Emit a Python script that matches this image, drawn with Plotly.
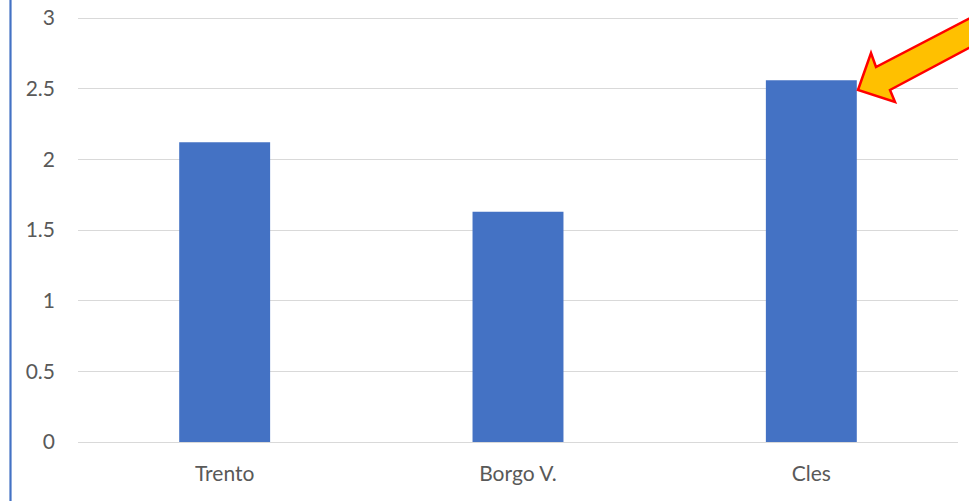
import plotly.graph_objects as go

categories = ["Trento", "Borgo V.", "Cles"]
values = [2.12, 1.63, 2.56]
tick_vals = [0, 0.5, 1, 1.5, 2, 2.5, 3]
tick_text = ["0", "0.5", "1", "1.5", "2", "2.5", "3"]

# body margin is removed below, so the figure fills the window from (0, 0)
OFF = 0
W, H = 969, 501
L, R, T, B = 78, 11, 14, 59
pw, ph = W - L - R, H - T - B
PX_PER_UNIT = (442 - 18) / 3.0
YMAX = ph / PX_PER_UNIT


def px(x, y):
    # screen pixel -> paper coordinate
    fx, fy = x - OFF, y - OFF
    return (fx - L) / pw, (H - B - fy) / ph


fig = go.Figure()
fig.add_trace(go.Bar(x=categories, y=values, marker=dict(color="#4472C4", line=dict(width=0)), width=0.31))

arrow_pts = [(858, 90), (871, 53), (876, 67), (995, 5), (995, 34), (890, 90), (895, 102)]
pts = [px(x, y) for x, y in arrow_pts]
path = "M " + " L ".join(f"{a:.5f},{b:.5f}" for a, b in pts) + " Z"
fig.add_shape(type="path", path=path, xref="paper", yref="paper",
              fillcolor="#FFC000", line=dict(color="#FF0000", width=2.5), layer="above")

x0, _ = px(10.5, 0)
_, y0 = px(0, 0)
_, y1 = px(0, 501)
fig.add_shape(type="line", xref="paper", yref="paper", x0=x0, x1=x0, y0=y0, y1=y1,
              line=dict(color="#4472C4", width=2.2))

fig.update_layout(
    width=W, height=H,
    margin=dict(l=L, r=R, t=T, b=B, autoexpand=False),
    paper_bgcolor="white", plot_bgcolor="white",
    showlegend=False,
    font=dict(family="Lato, Open Sans, sans-serif", size=21, color="#595959"),
)
fig.update_xaxes(showgrid=False, showline=False, ticks="", ticklabelstandoff=17,
                 automargin=False, tickfont=dict(size=21, color="#595959"))
fig.update_yaxes(range=[0, YMAX], tickvals=tick_vals, ticktext=tick_text, showgrid=True,
                 gridcolor="#D9D9D9", gridwidth=1.3, zeroline=True, zerolinecolor="#D9D9D9",
                 zerolinewidth=1.3, showline=False, ticks="", ticklabelstandoff=22,
                 ticklabeloverflow="allow", automargin=False,
                 tickfont=dict(size=21, color="#595959"))

fig.write_html(
    "out.html",
    config={"displayModeBar": False},
    post_script="document.body.style.margin='0';document.documentElement.style.overflow='hidden';",
)
